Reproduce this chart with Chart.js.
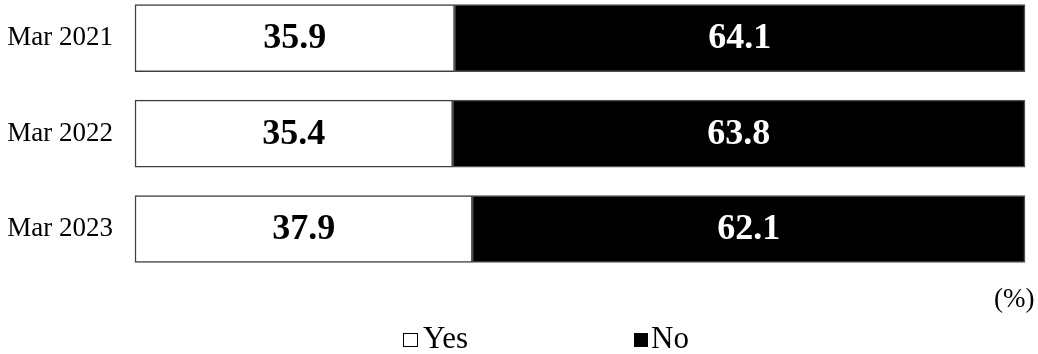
<!DOCTYPE html>
<html>
<head>
<meta charset="utf-8">
<script src="https://cdn.jsdelivr.net/npm/chart.js@4"></script>
<style>
  html, body { margin: 0; padding: 0; background: #fff; }
  #wrap { position: relative; width: 1038px; height: 354px; }
  canvas { position: absolute; left: 0; top: 0; }
  .txt { position: absolute; font-family: 'Times New Roman', 'Liberation Serif', serif; color: #000; white-space: nowrap; }
</style>
</head>
<body>
<div id="wrap">
  <canvas id="c" width="1038" height="354"></canvas>
  <div class="txt" id="unit" style="left:994px; top:285px; font-size:27px; line-height:27px;">(%)</div>
  <div class="txt" style="left:403px; top:333px; width:15px; height:14px; box-sizing:border-box; border:1.3px solid #000;"></div>
  <div class="txt" style="left:423px; top:322px; font-size:31px; line-height:31px;">Yes</div>
  <div class="txt" style="left:634px; top:333px; width:14px; height:14px; background:#000;"></div>
  <div class="txt" style="left:651px; top:322px; font-size:31px; line-height:31px;">No</div>
</div>
<script>
const categories = ['Mar 2021', 'Mar 2022', 'Mar 2023'];
const yesValues = [35.9, 35.4, 37.9];
const noValues = [64.1, 63.8, 62.1];
const seriesNames = ['Yes', 'No'];

const totals = categories.map((_, i) => yesValues[i] + noValues[i]);
const yesShare = yesValues.map((v, i) => v / totals[i] * 100);
const noShare = noValues.map((v, i) => v / totals[i] * 100);

const FONT = "'Times New Roman', 'Liberation Serif', serif";

const labelPlugin = {
  id: 'barLabels',
  afterDatasetsDraw(chart) {
    const ctx = chart.ctx;
    ctx.save();
    ctx.font = 'bold 36px ' + FONT;
    ctx.textAlign = 'center';
    ctx.textBaseline = 'middle';
    chart.data.datasets.forEach((ds, di) => {
      const meta = chart.getDatasetMeta(di);
      meta.data.forEach((bar, i) => {
        const raw = ds.rawValues[i];
        const x = (bar.x + bar.base) / 2;
        ctx.fillStyle = ds.labelColor;
        ctx.fillText(raw.toFixed(1), x, bar.y + 1);
      });
    });
    ctx.restore();
  }
};

new Chart(document.getElementById('c'), {
  type: 'bar',
  data: {
    labels: categories,
    datasets: [
      {
        label: seriesNames[0],
        data: yesShare,
        rawValues: yesValues,
        labelColor: '#000',
        backgroundColor: '#ffffff',
        borderColor: '#404040',
        borderWidth: 1.5,
        borderSkipped: false,
        barThickness: 67,
        clip: false
      },
      {
        label: seriesNames[1],
        data: noShare,
        rawValues: noValues,
        labelColor: '#fff',
        backgroundColor: '#000000',
        borderColor: '#505050',
        borderWidth: 1.5,
        borderSkipped: false,
        barThickness: 67,
        clip: false
      }
    ]
  },
  options: {
    indexAxis: 'y',
    responsive: false,
    animation: false,
    layout: { padding: { top: 33, bottom: 125, left: 0, right: 13 } },
    plugins: {
      legend: { display: false },
      tooltip: { enabled: false }
    },
    scales: {
      x: {
        stacked: true,
        min: 0,
        max: 100,
        display: false
      },
      y: {
        stacked: true,
        offset: false,
        grid: { display: false, drawTicks: false },
        border: { display: false },
        ticks: {
          color: '#000',
          padding: 22,
          font: { family: FONT, size: 27 }
        },
        afterFit(scale) { scale.width = 135; }
      }
    }
  },
  plugins: [labelPlugin]
});
</script>
</body>
</html>
